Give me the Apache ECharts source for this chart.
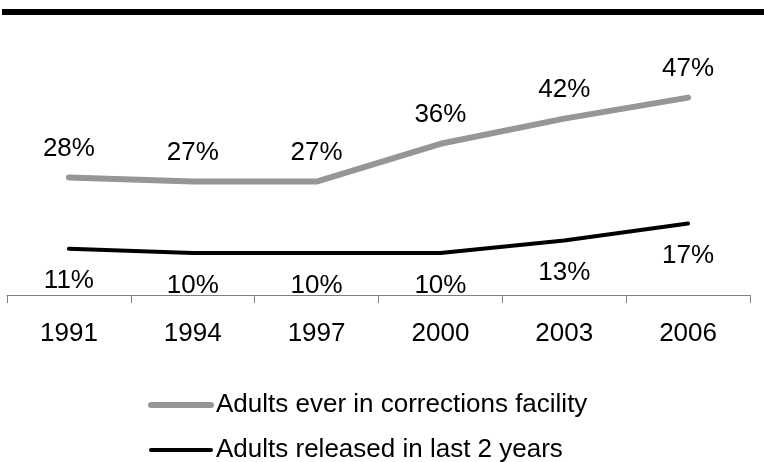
<!DOCTYPE html>
<html>
<head>
<meta charset="utf-8">
<script src="https://cdn.jsdelivr.net/npm/echarts@6/dist/echarts.min.js"></script>
<style>html,body{margin:0;padding:0;background:#fff;}#c{width:764px;height:462px;}</style>
</head>
<body>
<div id="c"></div>
<script>
var years = ['1991', '1994', '1997', '2000', '2003', '2006'];
var everInFacility = [28, 27, 27, 36, 42, 47];
var releasedLast2 = [11, 10, 10, 10, 13, 17];
var seriesNames = ['Adults ever in corrections facility', 'Adults released in last 2 years'];

var FONT = '"Liberation Sans", Arial, sans-serif';
var GRAY = '#969696';
var chart = echarts.init(document.getElementById('c'), null, {renderer: 'canvas'});
chart.setOption({
  animation: false,
  backgroundColor: '#fff',
  textStyle: {fontFamily: FONT},
  graphic: [{
    type: 'rect', shape: {x: 2, y: 9, width: 762, height: 6},
    style: {fill: '#000'}, silent: true
  }],
  grid: {left: 7, right: 14, top: 43, bottom: 167, containLabel: false},
  xAxis: {
    type: 'category', data: years, boundaryGap: true,
    axisLine: {show: true, lineStyle: {color: '#7f7f7f', width: 1}},
    axisTick: {show: true, length: 8, alignWithLabel: false, lineStyle: {color: '#7f7f7f'}},
    axisLabel: {color: '#000', fontSize: 26, fontFamily: FONT, margin: 26}
  },
  yAxis: {type: 'value', min: 0, max: 60, show: false, splitLine: {show: false}},
  legend: {
    orient: 'vertical', left: 143, top: 387, height: 90,
    itemWidth: 60, itemHeight: 14, itemGap: 19,
    itemStyle: {opacity: 0},
    textStyle: {color: '#000', fontSize: 26, fontFamily: FONT, lineHeight: 26},
    data: [
      {name: seriesNames[0], lineStyle: {width: 6, color: GRAY}},
      {name: seriesNames[1], lineStyle: {width: 4, color: '#000'}}
    ]
  },
  series: [{
    name: seriesNames[0], type: 'line', data: everInFacility,
    symbol: 'circle', symbolSize: 1, showSymbol: true,
    lineStyle: {color: GRAY, width: 6, cap: 'round', join: 'round'},
    itemStyle: {color: GRAY},
    label: {show: true, position: 'top', distance: 15, formatter: '{c}%', color: '#000', fontSize: 26, fontFamily: FONT}
  }, {
    name: seriesNames[1], type: 'line', data: releasedLast2,
    symbol: 'circle', symbolSize: 1, showSymbol: true,
    lineStyle: {color: '#000', width: 4, cap: 'round', join: 'round'},
    itemStyle: {color: '#000'},
    label: {show: true, position: 'bottom', distance: 19, formatter: '{c}%', color: '#000', fontSize: 26, fontFamily: FONT}
  }]
});
</script>
</body>
</html>
